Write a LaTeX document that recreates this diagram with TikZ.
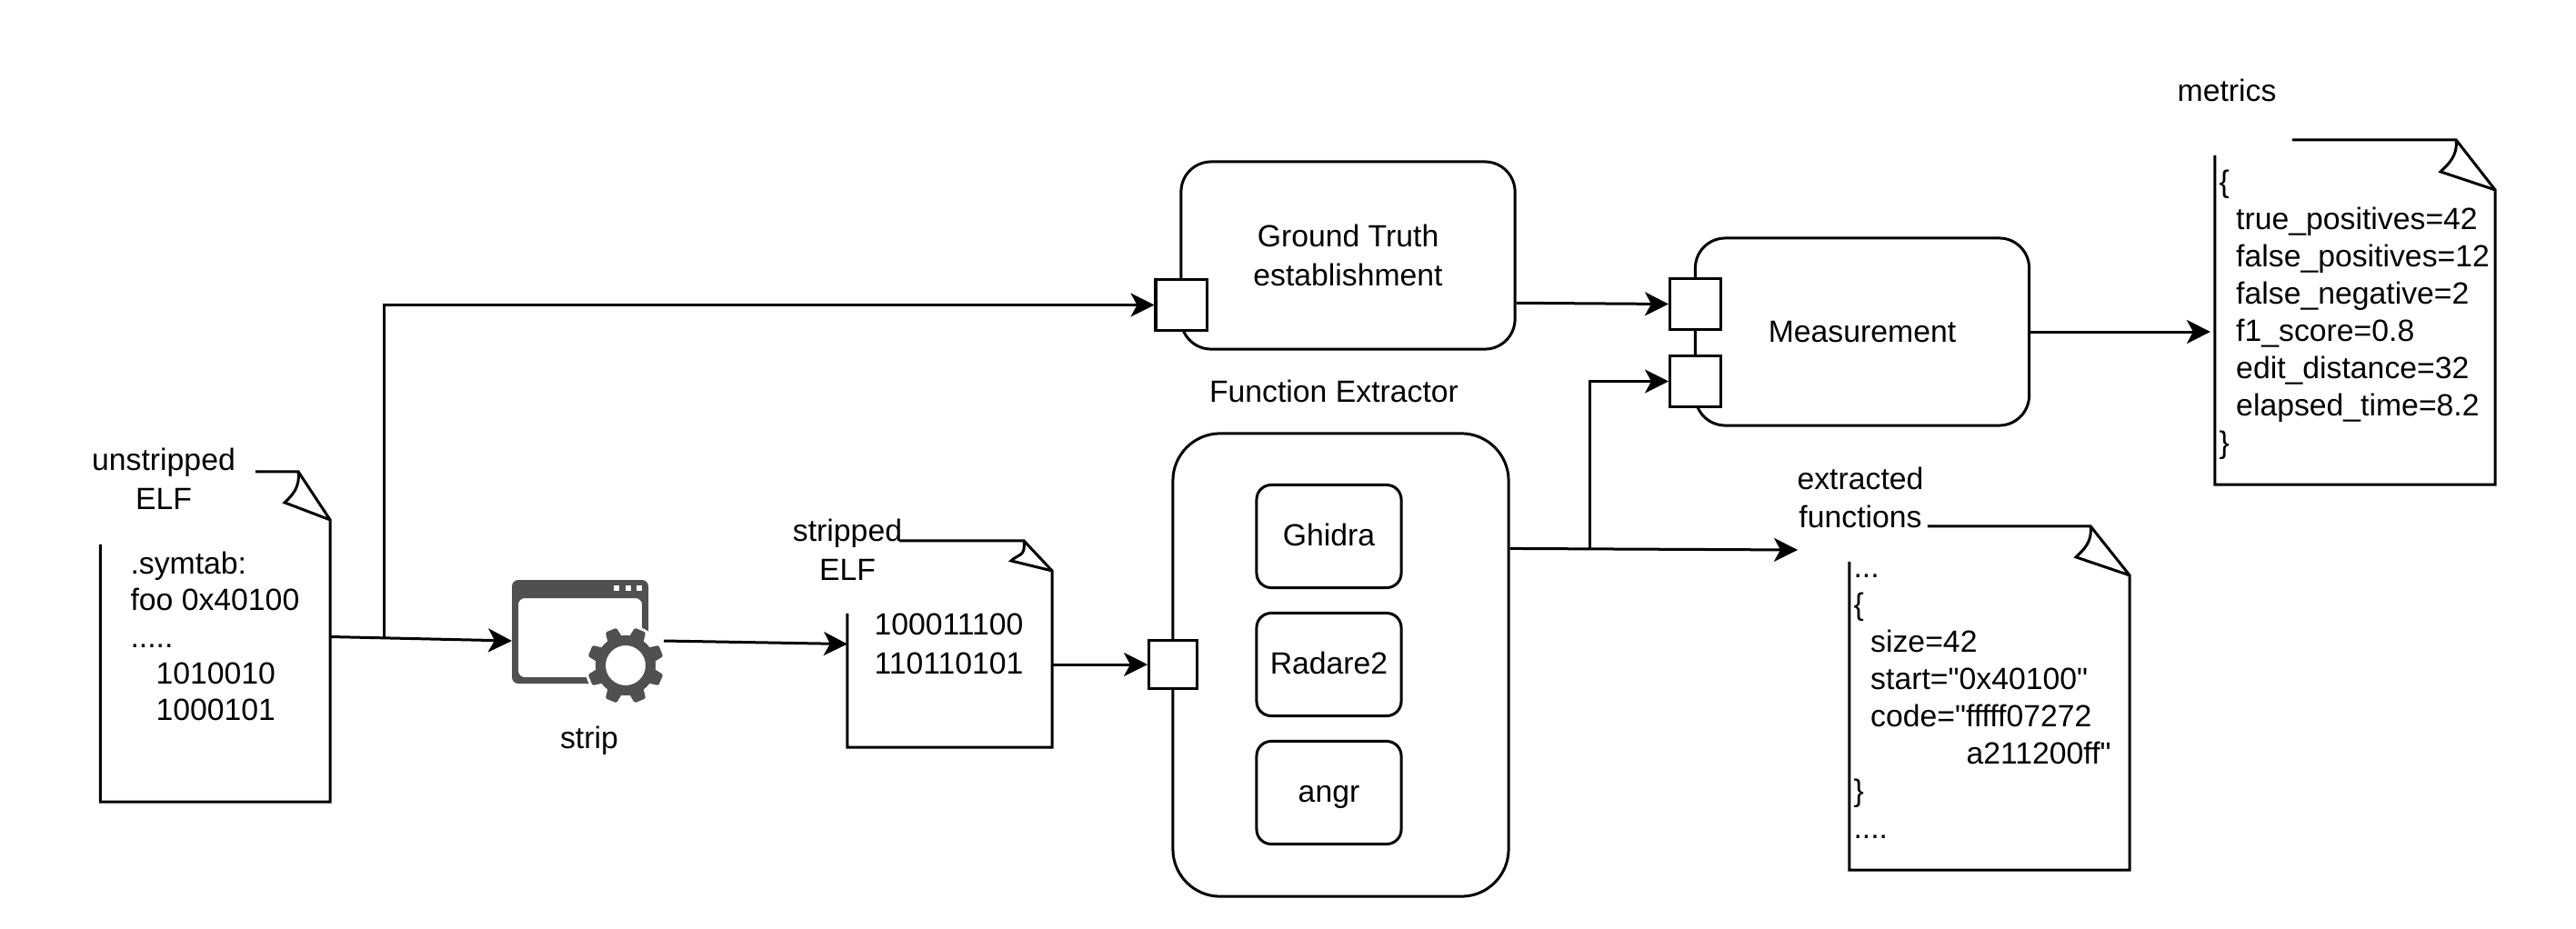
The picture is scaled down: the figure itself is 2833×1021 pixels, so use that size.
\documentclass[tikz,border=0pt]{standalone}
\usepackage{fontspec}
\setmainfont{Liberation Sans}[Ligatures=TeXOff]
\usetikzlibrary{positioning, arrows.meta, calc}

\begin{document}
\begin{tikzpicture}[
        x=0.01cm,
        y=-0.01cm,
        >={Stealth[length=0.26cm, width=0.26cm, inset=0.07cm]},
        line width=0.03cm,
        font=\fontsize{9.6pt}{11.47pt}\selectfont,
        note/.style={inner sep=0pt, outer sep=0pt},
        notetext/.style={inner sep=0pt, align=left, anchor=west},
        widetext/.style={notetext, font=\fontsize{9.6pt}{11.67pt}\selectfont},
        notelabel/.style={inner sep=0pt, align=center},
        block/.style={draw, rounded corners=0.33cm, inner sep=0pt, align=center, minimum width=3.67cm, minimum height=2.06cm},
        tool/.style={draw, rounded corners=0.16cm, inner sep=0pt, text height=0.27cm, text depth=0.07cm, minimum width=1.59cm, minimum height=1.13cm},
        port/.style={draw, fill=white, inner sep=0pt, minimum size=0.56cm},
    ]
    \definecolor{iconc}{HTML}{505050}
    \useasboundingbox (0,0) rectangle (2833,1021);

    % Draw the four note bodies
    \node[note, minimum width=2.525cm, minimum height=3.63cm] (unstripped) at (236.75,700.5) {};
    \node[note, minimum width=2.25cm, minimum height=2.27cm] (stripped) at (1044.5,708.5) {};
    \node[note, minimum width=3.08cm, minimum height=3.78cm] (extracted) at (2188,768) {};
    \node[note, minimum width=3.08cm, minimum height=3.79cm] (metrics) at (2590,343.5) {};

    % Outline of each note, open at its top left corner
    \foreach \doc/\gapx/\gapy/\cutx/\cuty/\foldx/\foldy in {
            unstripped/170.5/80/35/53/-15/34,
            stripped/57/80/31/33/-14/22,
            extracted/86/39/43/54/-16/34,
            metrics/85/17/43/55/-17/35} {
        \coordinate (corner) at ($(\doc.north east)+(-\cutx,0)$);
        \coordinate (side) at ($(\doc.north east)+(0,\cuty)$);
        \coordinate (fold) at ($(corner)+(\foldx,\foldy)$);
        \draw ($(\doc.north west)+(\gapx,0)$) -- (corner) -- (side)
            -- (\doc.south east) -- (\doc.south west) -- ($(\doc.north west)+(0,\gapy)$);
        \draw (corner) .. controls ($(corner)+(2,18)$) and ($(fold)+(8,-8)$) .. (fold) -- (side);
    }

    % Note labels and contents
    \node[notelabel] (unstrippedlabel) at (180,527) {unstripped\\[0.8pt]ELF};
    \node[notelabel] (strippedlabel) at (932,604.5) {stripped\\[0.8pt]ELF};
    \node[notelabel] (extractedlabel) at (2046,547.5) {extracted\\[0.4pt]functions};
    \node[notelabel] (metricslabel) at (2449,99) {metrics};
    \node[notetext] (unstrippedtext) at (142,700) {.symtab:\\foo 0x40100\\.....\\\hspace*{0.28cm}1010010\\\hspace*{0.28cm}1000101};
    \node[notetext] (strippedtext) at (960,708) {100011100\\[0.8pt]110110101};
    \node[widetext] (extractedtext) at (2037,777) {...\\\{\\\hspace*{0.187cm}size=42\\\hspace*{0.187cm}start="0x40100"\\\hspace*{0.187cm}code="fffff07272\\\hspace*{1.24cm}a211200ff"\\\}\\....};
    \node[widetext] (metricstext) at (2439,346) {\{\\\hspace*{0.187cm}true\_positives=42\\\hspace*{0.187cm}false\_positives=12\\\hspace*{0.187cm}false\_negative=2\\\hspace*{0.187cm}f1\_score=0.8\\\hspace*{0.187cm}edit\_distance=32\\\hspace*{0.187cm}elapsed\_time=8.2\\\}};

    % Draw the strip icon
    \node[note, minimum width=1.67cm, minimum height=1.4cm] (strip) at (646.5,705) {};
    \fill[iconc, rounded corners=0.07cm, even odd rule] (563,638) rectangle (713,752)
        (570,658) rectangle (706,745);
    \foreach \x in {678,691,703}
        \fill[white] (\x-3,644) rectangle (\x+3,650);
    \begin{scope}[shift={(688,732)}]
        \fill[white] (0,0) circle[radius=45];
        \fill[iconc, even odd rule] (0,0) circle[radius=33] (0,0) circle[radius=22];
        \foreach \a in {22.5,67.5,...,337.5}
            \fill[iconc, rounded corners=0.015cm, rotate=\a] (-9,27) -- (-6.5,42) -- (6.5,42) -- (9,27) -- cycle;
    \end{scope}
    \node[notelabel] (striplabel) at (648,815) {strip};

    % Draw the blocks
    \node[block] (truth) at (1482.5,281) {Ground Truth\\[0.8pt]establishment};
    \node[block] (measure) at (2048,365) {Measurement};
    \node[block, rounded corners=0.52cm, minimum width=3.69cm, minimum height=5.09cm] (func) at (1474.5,731.5) {};
    \node[notelabel] (funclabel) at (1467,430) {Function Extractor};
    \foreach \name/\y in {Ghidra/590,Radare2/731,angr/872}
        \node[tool] (\name) at (1461.5,\y) {\name};

    % Draw the ports
    \node[port] (truthport) at (1299,335.5) {};
    \node[port] (measureport1) at (1864.5,334.5) {};
    \node[port] (measureport2) at (1864.5,419.5) {};
    \node[port, minimum size=0.53cm] (funcport) at (1290,731) {};

    % Connect everything
    \coordinate (elftap) at ($(unstripped.east)!0.295!(strip.west)$);
    \coordinate (functap) at ($(func.north east)!0.25!(func.south east)$);
    \coordinate (funcbranch) at ($(functap)+(88,0)$);
    \coordinate (funcout) at (1977,605);
    \draw[->] (unstripped.east) -- (strip.west);
    \draw[->] (elftap) |- (truthport.west);
    \draw[->] (strip.east) -- (stripped.west);
    \draw[->] (stripped.east |- funcport) -- (funcport.west);
    \draw[->] ($(truth.south east)!0.25!(truth.north east)$) -- (measureport1.west);
    \draw[->] (functap) -- (funcout);
    \draw[->] (funcbranch) |- (measureport2.west);
    \draw[->, shorten >=0.05cm] (measure.east) -- (measure.east -| metrics.west);
\end{tikzpicture}
\end{document}
